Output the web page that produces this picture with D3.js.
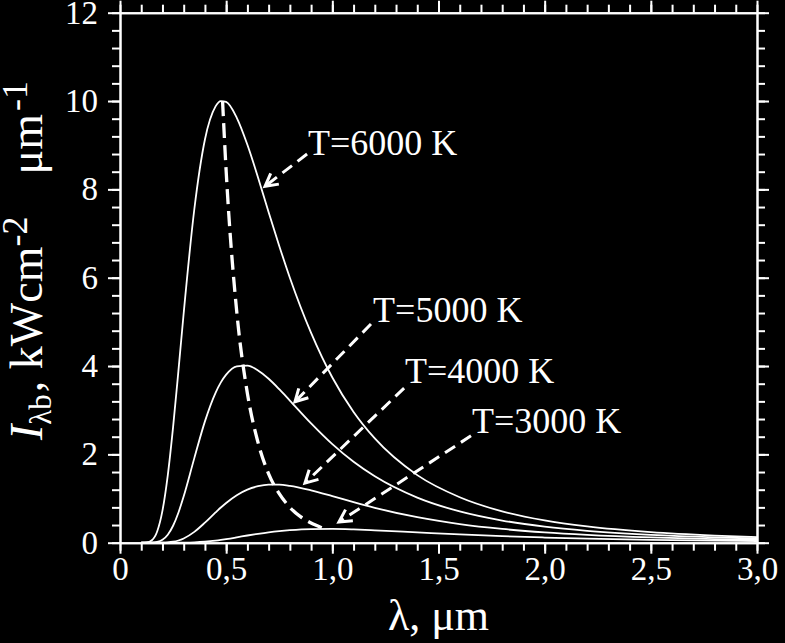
<!DOCTYPE html>
<html><head><meta charset="utf-8">
<script src="https://cdn.jsdelivr.net/npm/d3@7"></script>
<style>body{margin:0;background:#000}svg{display:block}
text{font-family:"Liberation Serif","Tinos","Times New Roman","DejaVu Serif",serif;}</style>
</head><body><svg id="c" width="785" height="643"></svg>
<script>
// wavelength grid, um
const wavelengths = [0.10,0.125,0.15,0.175,0.2,0.225,0.25,0.275,0.3,0.35,0.4,0.45,0.475,0.5,0.55,0.6,0.65,0.7,0.75,0.8,0.9,1.0,1.1,1.2,1.4,1.6,1.8,2.0,2.2,2.5,2.8,3.0];
// spectral intensity, kW cm^-2 um^-1
const I6000 = [0,0.0057,0.056,0.255,0.726,1.526,2.616,3.885,5.20,7.55,9.13,9.88,10.0,9.98,9.62,9.01,8.27,7.48,6.72,6.00,4.75,3.74,2.96,2.36,1.53,1.03,0.71,0.505,0.368,0.238,0.161,0.126];
const I5000 = [0,0,0.0023,0.0165,0.066,0.181,0.384,0.679,1.051,1.915,2.747,3.393,3.629,3.804,3.993,4.010,3.900,3.711,3.475,3.218,2.701,2.231,1.832,1.504,1.022,0.708,0.502,0.364,0.269,0.177,0.121,0.096];
const I4000 = [0,0,0,0,0.0018,0.0074,0.0216,0.0496,0.0956,0.245,0.454,0.685,0.796,0.900,1.076,1.202,1.279,1.314,1.314,1.288,1.186,1.055,0.918,0.790,0.577,0.421,0.311,0.232,0.176,0.119,0.083,0.067];
const I3000 = [0,0,0,0,0,0,0.0002,0.0006,0.0018,0.008,0.0227,0.0477,0.0638,0.0818,0.1214,0.163,0.2016,0.236,0.2638,0.285,0.309,0.312,0.301,0.281,0.234,0.188,0.148,0.117,0.0925,0.066,0.048,0.039];
// locus of maxima (dashed)
const peakLambda = [0.483,0.5,0.55,0.6,0.65,0.7,0.75,0.8,0.85,0.9,0.95];
const peakI = [10.0,8.41,5.22,3.38,2.27,1.56,1.11,0.80,0.59,0.445,0.34];
// annotations
const labels = ["T=6000 K","T=5000 K","T=4000 K","T=3000 K"];
const labelLambda = [0.885,1.192,1.342,1.658];
const labelI = [8.77,4.99,3.62,2.48];
const arrowFromLambda = [0.881,1.182,1.338,1.653];
const arrowFromI = [8.80,4.95,3.50,2.42];
const arrowToLambda = [0.683,0.824,0.871,1.031];
const arrowToI = [8.07,3.19,1.35,0.47];
// ticks
const xMajor = [0,0.5,1.0,1.5,2.0,2.5,3.0];
const xTickLabels = ["0","0,5","1,0","1,5","2,0","2,5","3,0"];
const xMinor = d3.range(0,31).map(i=>i/10);
const yMajor = [0,2,4,6,8,10,12];
const yTickLabels = ["0","2","4","6","8","10","12"];
const yMinor = d3.range(0,31).map(i=>i*0.4);

const svg = d3.select("#c");
svg.append("rect").attr("width",785).attr("height",643).attr("fill","#000");
const x = d3.scaleLinear().domain([0,3]).range([120,757]);
const y = d3.scaleLinear().domain([0,12]).range([542.7,12.7]);

function styleAxis(g){
  g.attr("font-family",null).attr("font-size",null);
  g.selectAll("path.domain").attr("stroke","#fff").attr("stroke-width",2);
  g.selectAll(".tick line").attr("stroke","#fff").attr("stroke-width",2);
  g.selectAll(".tick text").attr("fill","#fff").style("font-size","33px");
}
const H = y(0), T = y(12), L = x(0), R = x(3);
// bottom
svg.append("g").attr("transform",`translate(0,${H})`).call(d3.axisBottom(x).tickValues(xMinor).tickSize(8).tickSizeOuter(0).tickFormat("")).call(styleAxis);
svg.append("g").attr("transform",`translate(0,${H})`).call(d3.axisBottom(x).tickValues(xMajor).tickSize(11).tickSizeOuter(0).tickPadding(3).tickFormat((d,i)=>xTickLabels[i])).call(styleAxis);
// top
svg.append("g").attr("transform",`translate(0,${T})`).call(d3.axisTop(x).tickValues(xMinor).tickSize(8).tickSizeOuter(0).tickFormat("")).call(styleAxis);
svg.append("g").attr("transform",`translate(0,${T})`).call(d3.axisTop(x).tickValues(xMajor).tickSize(12).tickSizeOuter(0).tickFormat("")).call(styleAxis);
// left
svg.append("g").attr("transform",`translate(${L},0)`).call(d3.axisLeft(y).tickValues(yMinor).tickSize(8).tickSizeOuter(0).tickFormat("")).call(styleAxis);
svg.append("g").attr("transform",`translate(${L},0)`).call(d3.axisLeft(y).tickValues(yMajor).tickSize(12).tickSizeOuter(0).tickPadding(10).tickFormat((d,i)=>yTickLabels[i])).call(styleAxis);
// right
svg.append("g").attr("transform",`translate(${R},0)`).call(d3.axisRight(y).tickValues(yMinor).tickSize(8).tickSizeOuter(0).tickFormat("")).call(styleAxis);
svg.append("g").attr("transform",`translate(${R},0)`).call(d3.axisRight(y).tickValues(yMajor).tickSize(12).tickSizeOuter(0).tickFormat("")).call(styleAxis);

// curves
const line = d3.line().x((d,i)=>x(wavelengths[i])).y(d=>y(d)).curve(d3.curveMonotoneX);
[I6000,I5000,I4000,I3000].forEach(s=>{
  svg.append("path").attr("d",line(s)).attr("fill","none").attr("stroke","#fff").attr("stroke-width",1.8);
});
// peak locus
const pline = d3.line().x((d,i)=>x(peakLambda[i])).y(d=>y(d)).curve(d3.curveMonotoneX);
svg.append("path").attr("d",pline(peakI)).attr("fill","none").attr("stroke","#fff")
  .attr("stroke-width",3.3).attr("stroke-dasharray","15,7");

// annotations
labels.forEach((t,i)=>{
  svg.append("text").attr("x",x(labelLambda[i])).attr("y",y(labelI[i]))
    .attr("fill","#fff").style("font-size","36px").text(t);
  const x0=x(arrowFromLambda[i]), y0=y(arrowFromI[i]), x1=x(arrowToLambda[i]), y1=y(arrowToI[i]);
  const ang=Math.atan2(y1-y0,x1-x0);
  svg.append("line").attr("x1",x0).attr("y1",y0).attr("x2",x1-3*Math.cos(ang)).attr("y2",y1-3*Math.sin(ang))
    .attr("stroke","#fff").attr("stroke-width",3).attr("stroke-dasharray","12,7");
  const a=14, da=0.5;
  const p=d3.path();
  p.moveTo(x1-a*Math.cos(ang-da), y1-a*Math.sin(ang-da));
  p.lineTo(x1,y1);
  p.lineTo(x1-a*Math.cos(ang+da), y1-a*Math.sin(ang+da));
  svg.append("path").attr("d",p.toString()).attr("fill","none").attr("stroke","#fff").attr("stroke-width",3);
});

// axis titles
svg.append("text").attr("x",(L+R)/2).attr("y",630).attr("text-anchor","middle")
  .attr("fill","#fff").style("font-size","44px").text("λ, μm");
const yt = svg.append("text").attr("transform","translate(42,440) rotate(-90)")
  .attr("fill","#fff").style("font-size","46px");
yt.append("tspan").style("font-style","italic").text("I");
yt.append("tspan").style("font-size","31px").attr("dy",9).text("λb");
yt.append("tspan").attr("dy",-9).attr("dx",2).text(", kWcm");
yt.append("tspan").style("font-size","36px").attr("dy",-15).text("-2");
yt.append("tspan").attr("dy",15).attr("dx",42).text("μm");
yt.append("tspan").style("font-size","36px").attr("dy",-15).attr("dx",3).text("-1");
</script></body></html>
